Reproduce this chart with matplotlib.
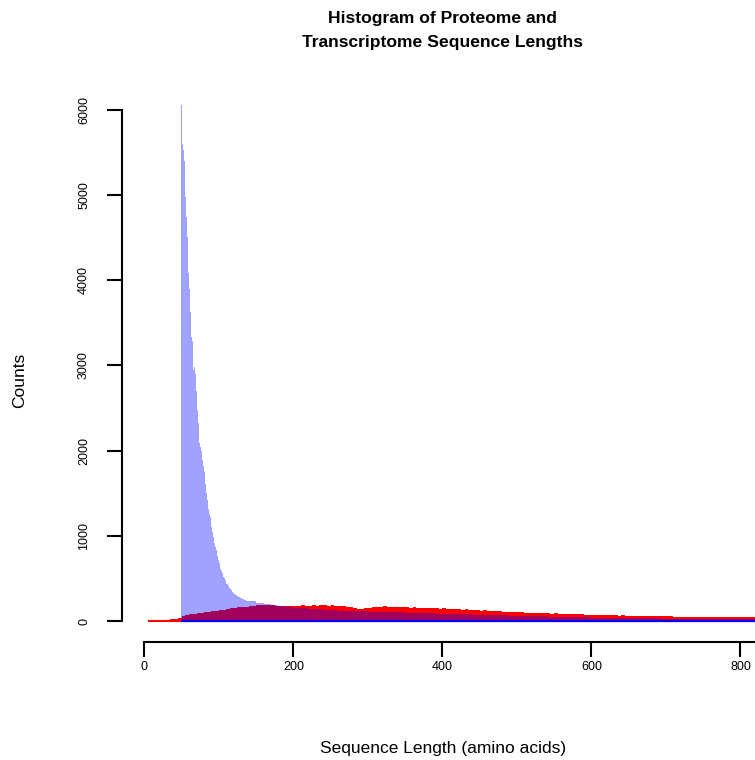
import numpy as np
import matplotlib
matplotlib.use("Agg")
import matplotlib.pyplot as plt

plt.rcParams['font.family'] = ['Liberation Sans', 'DejaVu Sans']

#--------------------------------------------------------------------------------------------------
# transcriptome (red): bins of width 5 starting at 5 aa
red_start = 5
red_width = 5
red_counts = [8, 10, 12, 11, 13, 15, 28, 22, 35,
	62, 70, 78, 85, 92, 98, 104, 108, 116, 122,
	128, 135, 145, 150, 158, 162, 168, 165, 175, 180,
	184, 190, 186, 192, 185, 180, 176, 182, 174, 178,
	172, 180, 185, 176, 182, 188, 178, 184, 190, 182,
	186, 176, 180, 172, 168, 160, 150, 145, 142, 150,
	158, 165, 170, 162, 172, 166, 170, 164, 168, 160,
	165, 158, 162, 155, 158, 150, 154, 148, 150, 145,
	150, 142, 146, 138, 140, 132, 136, 128, 125, 130,
	120, 124, 116, 118, 112, 114, 108, 110, 104, 106,
	102, 104, 100, 96, 98, 94, 92, 95, 90, 88,
	90, 86, 84, 86, 82, 80, 78, 80, 75, 74,
	76, 72, 70, 72, 68, 66, 68, 64, 65, 62,
	63, 60, 61, 58, 60, 57, 58, 56, 55, 56,
	54, 55, 52, 53, 51, 52, 50, 51, 49, 50,
	48, 49, 47, 48, 46, 47, 45, 46, 44, 45,
	44, 43, 44, 42]

# proteome (blue): width 1 bins from 49 to 139, then width 10 bins up to 820
blue_fine_start = 49
blue_fine_counts = [6050, 5730, 5600, 5520, 5400, 5150, 4970, 4740, 4500, 4270,
	4080, 3900, 3620, 3380, 3330, 3290, 2950, 3210, 2980, 2900,
	2700, 2550, 2470, 2320, 2120, 2090, 2040, 2000, 1950, 1890,
	1820, 1750, 1690, 1610, 1500, 1420, 1370, 1320, 1260, 1220,
	1160, 1100, 1040, 990, 950, 910, 870, 830, 800, 760,
	720, 680, 640, 610, 590, 560, 540, 520, 500, 480,
	460, 440, 430, 415, 400, 385, 370, 360, 350, 340,
	330, 322, 315, 308, 300, 295, 290, 284, 280, 275,
	270, 266, 262, 258, 254, 250, 246, 243, 240, 236,
	233]
blue_coarse_width = 10
blue_coarse_counts = [238, 215, 198, 184, 172, 162, 154, 147,
	141, 136, 131, 127, 123, 119, 116, 113, 110, 108,
	106, 104, 102, 99, 96, 94, 91, 88, 86, 83,
	80, 78, 75, 73, 70, 68, 65, 63, 61, 58,
	56, 54, 52, 50, 48, 46, 44, 42, 41, 39,
	38, 36, 35, 33, 32, 31, 30, 29, 28, 27,
	26, 25, 24, 23, 22, 21, 21, 20, 19, 19]

x_ticks = [0, 200, 400, 600, 800]
y_ticks = [0, 1000, 2000, 3000, 4000, 5000, 6000]
#--------------------------------------------------------------------------------------------------

red_edges = red_start + red_width * np.arange(len(red_counts) + 1)
fine_edges = blue_fine_start + np.arange(len(blue_fine_counts) + 1)
coarse_edges = fine_edges[-1] + blue_coarse_width * np.arange(1, len(blue_coarse_counts) + 1)
blue_edges = np.concatenate([fine_edges, coarse_edges])
blue_counts = blue_fine_counts + blue_coarse_counts

fig = plt.figure(figsize=(7.55, 7.6), dpi=100)
ax = fig.add_axes([122/755, 118/760, 1 - 122/755, (676 - 118)/760])

ax.stairs(red_counts, red_edges, fill=True, color="red", linewidth=0)
ax.hlines(0, red_edges[0], red_edges[-1], color="red", linewidth=1.5)
ax.stairs(blue_counts, blue_edges, fill=True, color="blue", alpha=0.37, linewidth=0)
ax.hlines(0, blue_edges[0], red_edges[-1], color="blue", linewidth=1.6)

ax.set_xlim(-30, 819.5)
ax.set_ylim(-246, 6300)

for s in ["top", "right"]:
	ax.spines[s].set_visible(False)
ax.spines["left"].set_bounds(0, 6000)
ax.spines["bottom"].set_bounds(0, 819.5)
for s in ["left", "bottom"]:
	ax.spines[s].set_linewidth(1.5)

ax.set_xticks(x_ticks)
ax.set_yticks(y_ticks)
ax.tick_params(axis="both", length=11, width=1.5, labelsize=9)
ax.tick_params(axis="x", pad=3)
ax.tick_params(axis="y", pad=12, labelrotation=90)
for t in ax.get_yticklabels():
	t.set_va("center")

fig.text(443/755, 1 - 18/760, "Histogram of Proteome and", ha="center", va="center",
	fontsize=12.6, fontweight="bold")
fig.text(443/755, 1 - 42/760, "Transcriptome Sequence Lengths", ha="center", va="center",
	fontsize=12.6, fontweight="bold")
fig.text(443/755, 1 - 748/760, "Sequence Length (amino acids)", ha="center", va="center",
	fontsize=12.5)
fig.text(20/755, 1 - 380/760, "Counts", ha="center", va="center", rotation=90, fontsize=12.5)

fig.savefig("out.png", dpi=100)
